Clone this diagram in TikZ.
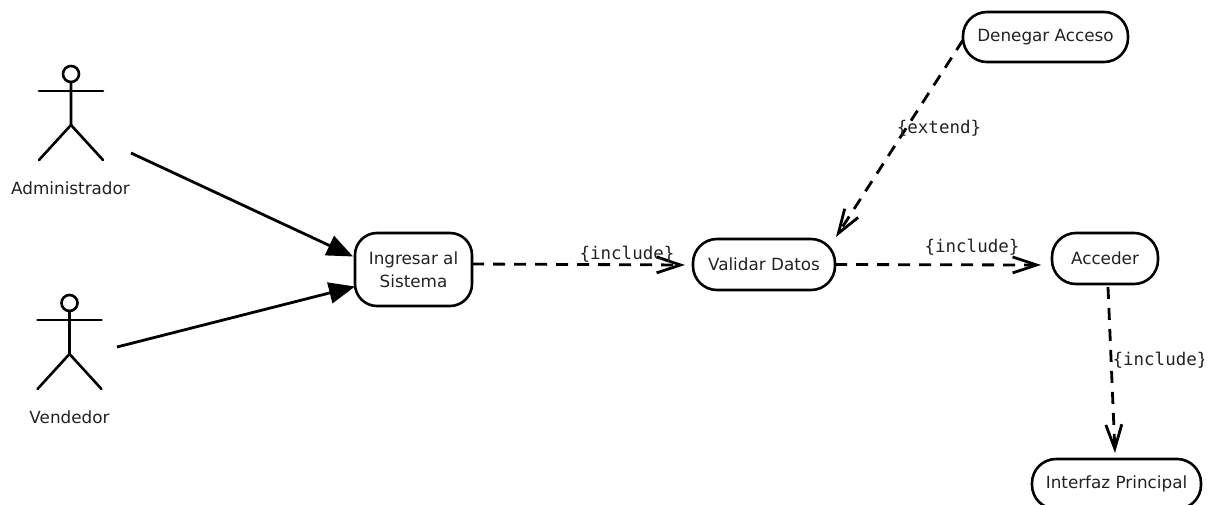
\documentclass[tikz,border=0pt]{standalone}
\usepackage{fontspec}
\setmainfont{DejaVu Sans}
\setmonofont{DejaVu Sans Mono}
\usetikzlibrary{arrows.meta}
\definecolor{textgray}{HTML}{222222}
\tikzset{
    usecase/.style={draw,line width=2.6pt,rounded corners=24pt,inner sep=0pt,outer sep=0pt,
        align=center,text=textgray,font=\fontsize{16.8}{23}\selectfont},
    actorlabel/.style={inner sep=0pt,text=textgray,font=\fontsize{16.8}{20}\selectfont},
    stereo/.style={inner sep=0pt,text=textgray,font=\ttfamily\fontsize{17.5}{20}\selectfont},
    assoc/.style={line width=2.8pt,-{Triangle[length=26pt,width=21pt]}},
    dep/.style={line width=2.8pt,dash pattern=on 12pt off 9pt,-{Straight Barb[length=24pt,width=16pt,line width=2.8pt]}},
    actorline/.style={line width=2.6pt,line cap=round}
}
\newcommand{\actor}[2]{
    \draw[actorline] (#1,#2+8) circle (8pt);
    \draw[actorline] (#1,#2+16) -- (#1,#2+59) -- (#1-32,#2+94);
    \draw[actorline] (#1,#2+59) -- (#1+32,#2+94);
    \draw[actorline] (#1-32,#2+25) -- (#1+32,#2+25);
}
\begin{document}
\begin{tikzpicture}[x=1pt,y=-1pt]
\useasboundingbox (0,0) rectangle (1221,505);
\clip (0,0) rectangle (1221,505);

\actor{71}{66}
\actor{69.5}{295}
\node[actorlabel] (administrador) at (70.5,188) {Administrador};
\node[actorlabel] (vendedor) at (69.5,417) {Vendedor};
\coordinate (adminout) at (131,153);
\coordinate (vendout) at (117,347);

\node[usecase,minimum width=117pt,minimum height=73pt,rounded corners=22pt] (ingresar) at (413.5,269.5) {Ingresar al\\Sistema};
\node[usecase,minimum width=142pt,minimum height=51pt] (validar) at (764,264.5) {Validar Datos};
\node[usecase,minimum width=165pt,minimum height=50pt] (denegar) at (1045.5,37) {Denegar Acceso};
\node[usecase,minimum width=106pt,minimum height=51pt] (acceder) at (1105,258.5) {Acceder};
\node[usecase,minimum width=169pt,minimum height=50pt] (interfaz) at (1116.5,484) {Interfaz Principal};

% actors to first use case
\draw[assoc] (adminout) -- ([shift={(-2,-13)}]ingresar.west);
\draw[assoc] (vendout) -- ([yshift=-17pt]ingresar.west);

% dependencies
\coordinate (validarin) at (685,265);
\coordinate (accederin) at (1041,265);
\coordinate (validarup) at (836,237);
\coordinate (accederout) at (1108,287);
\coordinate (interfazin) at (1115,453);
\draw[dep] ([yshift=5.5pt]ingresar.east) -- (validarin);
\draw[dep] (validar.east) -- (accederin);
\draw[dep] ([shift={(0,3)}]denegar.west) -- (validarup);
\draw[dep] (accederout) -- (interfazin);

\node[stereo] (inc1) at (627,254) {\{include\}};
\node[stereo] (inc2) at (972,247) {\{include\}};
\node[stereo] (ext) at (939,128) {\{extend\}};
\begin{scope}
\clip (0,0) rectangle (1203,505);
\node[stereo] (inc3) at (1160,360) {\{include\}};
\end{scope}
\end{tikzpicture}
\end{document}
